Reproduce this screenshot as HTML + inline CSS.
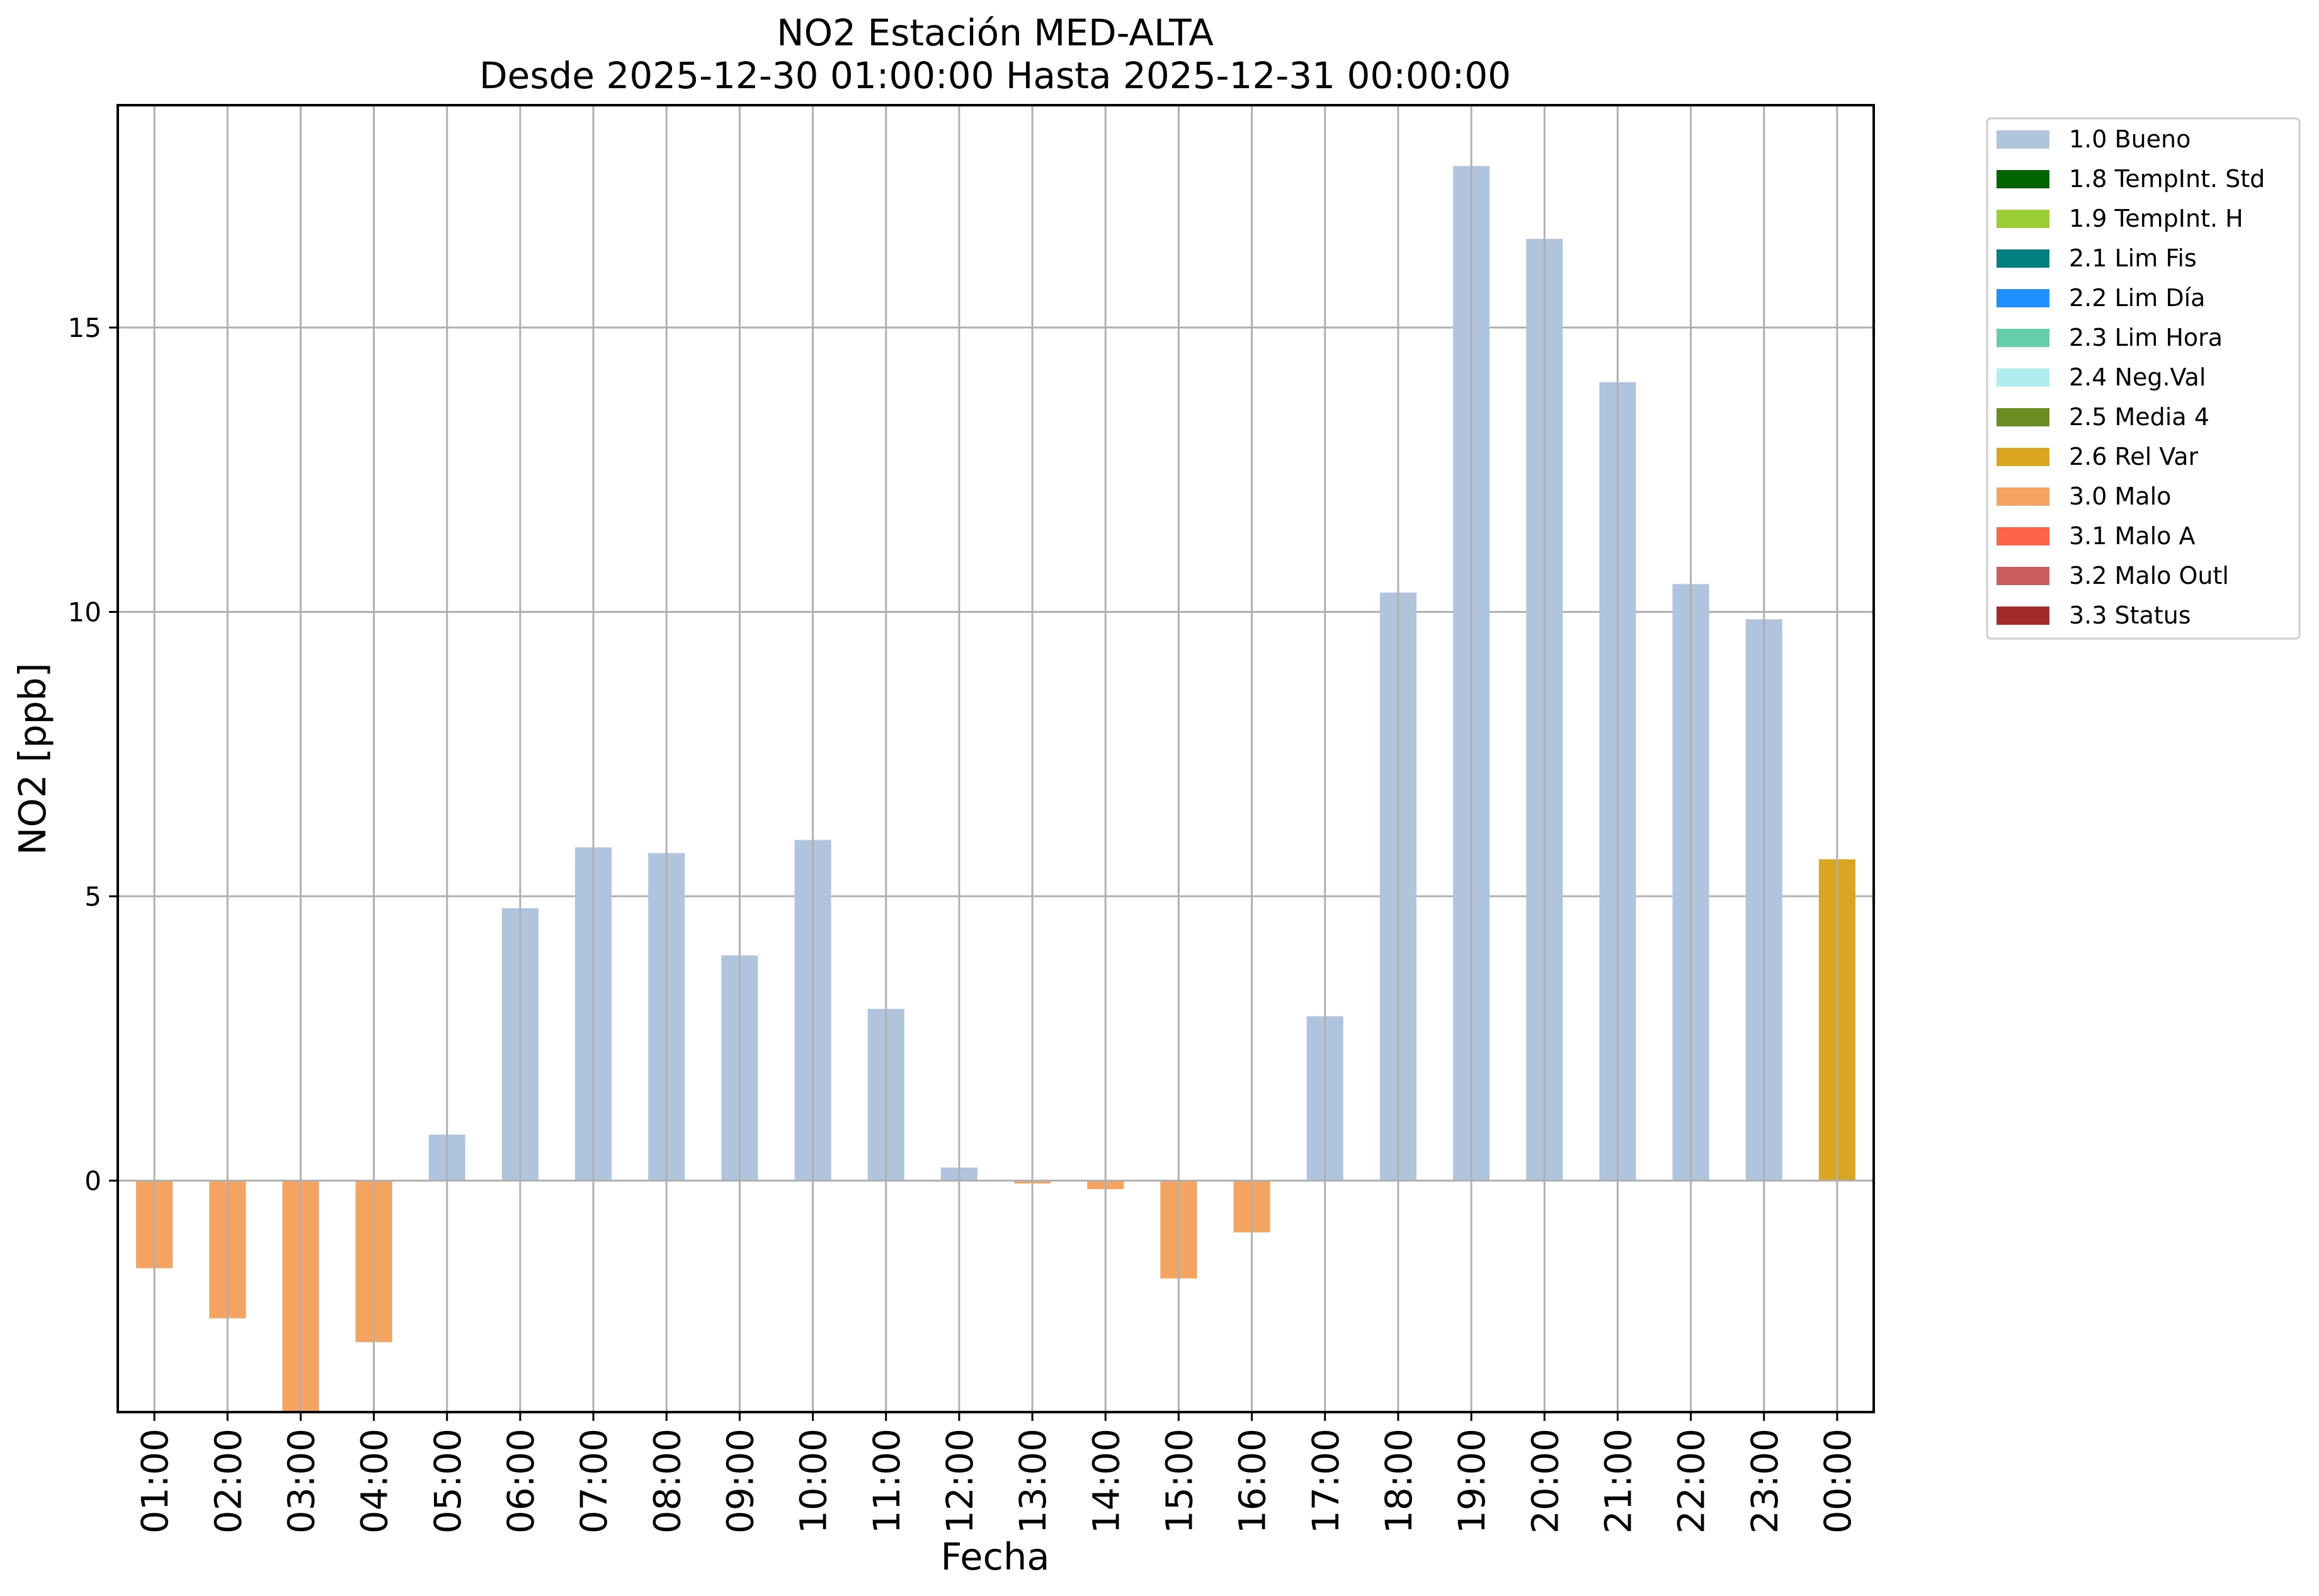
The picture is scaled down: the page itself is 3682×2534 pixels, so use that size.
<!DOCTYPE html>
<html><head><meta charset="utf-8"><style>
html,body{margin:0;padding:0;background:#fff}
svg{display:block;font-family:"DejaVu Sans","Liberation Sans",sans-serif}
</style></head><body>
<svg id="chart" width="3682" height="2534" viewBox="0 0 3682 2534" xmlns="http://www.w3.org/2000/svg">
<rect width="3682" height="2534" fill="#fff"/>
<text x="1580" y="72" font-size="58" text-anchor="middle">NO2 Estación MED-ALTA</text>
<text x="1580" y="140" font-size="58" text-anchor="middle">Desde 2025-12-30 01:00:00 Hasta 2025-12-31 00:00:00</text>
<g id="plot"></g>
<text x="1580" y="2492" font-size="59" text-anchor="middle">Fecha</text>
<text transform="translate(72,1205) rotate(-90)" font-size="59" text-anchor="middle">NO2 [ppb]</text>
<g id="legend"></g>
</svg>
<script>
const categories = ["01:00","02:00","03:00","04:00","05:00","06:00","07:00","08:00","09:00","10:00","11:00","12:00","13:00","14:00","15:00","16:00","17:00","18:00","19:00","20:00","21:00","22:00","23:00","00:00"];
const values = [-1.54,-2.42,-4.2,-2.84,0.81,4.79,5.86,5.76,3.96,5.99,3.02,0.23,-0.05,-0.15,-1.72,-0.91,2.89,10.34,17.84,16.56,14.04,10.49,9.87,5.65];
const flags = ["3.0","3.0","3.0","3.0","1.0","1.0","1.0","1.0","1.0","1.0","1.0","1.0","3.0","3.0","3.0","3.0","1.0","1.0","1.0","1.0","1.0","1.0","1.0","2.6"];
const yTicks = [0,5,10,15];
const legendLabels = ["1.0 Bueno","1.8 TempInt. Std","1.9 TempInt. H","2.1 Lim Fis","2.2 Lim Día","2.3 Lim Hora","2.4 Neg.Val","2.5 Media 4","2.6 Rel Var","3.0 Malo","3.1 Malo A","3.2 Malo Outl","3.3 Status"];
const legendColors = ["#b0c4de","#006400","#9acd32","#008080","#1e90ff","#66cdaa","#afeeee","#6b8e23","#daa520","#f4a460","#ff6347","#cd5c5c","#a52a2a"];

const NS="http://www.w3.org/2000/svg";
const L=187,R=2975,T=167,B=2242;
const yMin=-4.07,yMax=18.91;
const xs=i=>L+(i+0.5)*(R-L)/categories.length;
const ys=v=>B-(v-yMin)/(yMax-yMin)*(B-T);
const step=(R-L)/categories.length;
function mk(tag,attrs,parent){const e=document.createElementNS(NS,tag);for(const k in attrs)e.setAttribute(k,attrs[k]);parent.appendChild(e);return e;}
const plot=document.getElementById('plot');
const clip=mk('clipPath',{id:'pc'},mk('defs',{},plot));
mk('rect',{x:L,y:T,width:R-L,height:B-T},clip);
yTicks.forEach(v=>{
  const g=mk('line',{x1:L,x2:R,y1:ys(v),y2:ys(v),stroke:'#b0b0b0','stroke-width':3},plot);
  
  
});
const bars=mk('g',{'clip-path':'url(#pc)'},plot);
values.forEach((v,i)=>{
  const col=legendColors[legendLabels.findIndex(l=>l.startsWith(flags[i]))];
  const y0=ys(0),y1=ys(v);
  const b=mk('rect',{x:xs(i)-step*0.25,width:step*0.5,y:Math.min(y0,y1),height:Math.abs(y1-y0),fill:col},bars);
  
  
});
categories.forEach((c,i)=>{
  const g=mk('line',{x1:xs(i),x2:xs(i),y1:T,y2:B,stroke:'#b0b0b0','stroke-width':3},plot);
  
  
});
const zl=mk('line',{x1:L,x2:R,y1:ys(0),y2:ys(0),stroke:'#b0b0b0','stroke-width':3},plot);


const fr=mk('rect',{x:L,y:T,width:R-L,height:B-T,fill:'none',stroke:'#000','stroke-width':4},plot);


yTicks.forEach(v=>{
  const t=mk('line',{x1:L-14,x2:L,y1:ys(v),y2:ys(v),stroke:'#000','stroke-width':3},plot);
  
  
  const tx=mk('text',{x:L-26,y:ys(v)+15,'font-size':42,'text-anchor':'end'},plot);
  tx.textContent=v;
  
  
});
categories.forEach((c,i)=>{
  const t=mk('line',{x1:xs(i),x2:xs(i),y1:B,y2:B+14,stroke:'#000','stroke-width':3},plot);
  
  
  const tx=mk('text',{transform:`translate(${xs(i)+21},${B+26}) rotate(-90)`,'font-size':58,'text-anchor':'end'},plot);
  tx.textContent=c;
  
  
});
const lg=document.getElementById('legend');
const box=mk('rect',{x:3155,y:188,width:496,height:826,fill:'#fff',stroke:'#ccc','stroke-width':3,rx:6},lg);


legendLabels.forEach((l,i)=>{
  const y=221+i*63;
  const g=mk('g',{},lg);
  
  
  mk('rect',{x:3170,y:y-14,width:84,height:29,fill:legendColors[i]},g);
  const t=mk('text',{x:3285,y:y+13,'font-size':38},g);
  t.textContent=l;
});
</script>
</body></html>
